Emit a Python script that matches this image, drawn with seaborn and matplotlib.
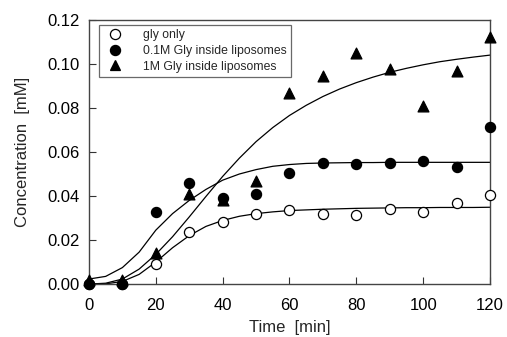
import numpy as np
import pandas as pd
import seaborn as sns
import matplotlib.pyplot as plt
from matplotlib.lines import Line2D

# measured points
time = [0, 10, 20, 30, 40, 50, 60, 70, 80, 90, 100, 110, 120]
gly_only = [0.000, 0.000, 0.009, 0.0236, 0.028, 0.032, 0.0336, 0.0318, 0.0312, 0.034, 0.0327, 0.037, 0.0405]
gly_01m = [0.000, 0.000, 0.0327, 0.046, 0.039, 0.041, 0.0505, 0.055, 0.0545, 0.055, 0.056, 0.053, 0.0714]
gly_1m = [0.002, 0.002, 0.014, 0.041, 0.038, 0.047, 0.0868, 0.0945, 0.105, 0.0977, 0.081, 0.097, 0.112]

# fitted curves
fit_time = [0, 5, 10, 15, 20, 25, 30, 35, 40, 45, 50, 55, 60, 65, 70, 75, 80,
            85, 90, 95, 100, 105, 110, 115, 120]
fit_gly_only = [0.0, 0.0001, 0.0012, 0.0044, 0.0100, 0.0165, 0.0220, 0.0262, 0.0289,
                0.0308, 0.0320, 0.0328, 0.0334, 0.0337, 0.0340, 0.0342, 0.0344,
                0.0345, 0.0346, 0.0347, 0.0347, 0.0348, 0.0348, 0.0348, 0.0349]
fit_gly_01m = [0.0023, 0.0035, 0.0075, 0.0145, 0.0245, 0.0320, 0.0380, 0.0430, 0.0472,
               0.0500, 0.0520, 0.0535, 0.0543, 0.0548, 0.0550, 0.0551, 0.0552,
               0.0552, 0.0553, 0.0553, 0.0553, 0.0553, 0.0553, 0.0553, 0.0553]
fit_gly_1m = [0.0, 0.0004, 0.0023, 0.0068, 0.0135, 0.0215, 0.0305, 0.0398, 0.0489,
              0.0572, 0.0647, 0.0711, 0.0766, 0.0812, 0.0852, 0.0886, 0.0915,
              0.0940, 0.0962, 0.0980, 0.0996, 0.1010, 0.1021, 0.1031, 0.1040]

labels = ['gly only', '0.1M Gly inside liposomes', '1M Gly inside liposomes']

sns.set_style('ticks')
plt.rcParams['font.family'] = ['Liberation Sans', 'DejaVu Sans']

fig = plt.figure(figsize=(5.07, 3.37), dpi=100)
ax = fig.add_axes([0.1755, 0.157, 0.791, 0.784])

# curves
for ys in [fit_gly_only, fit_gly_01m, fit_gly_1m]:
    sns.lineplot(x=fit_time, y=ys, ax=ax, color='black', linewidth=0.9, zorder=2)

# points
styles = [('o', 'white', 7.3), ('o', 'black', 7.3), ('^', 'black', 7.8)]
for ys, (m, fc, ms) in zip([gly_only, gly_01m, gly_1m], styles):
    sns.scatterplot(x=time, y=ys, ax=ax, marker=m, s=ms ** 2, color=fc,
                    edgecolor='black', linewidth=0.9, zorder=3, clip_on=False)

ax.set_xlim(0, 120)
ax.set_ylim(0, 0.12)
ax.set_xticks(range(0, 121, 20))
ax.set_yticks(np.arange(0, 0.121, 0.02))
ax.yaxis.set_major_formatter(plt.FormatStrFormatter('%.2f'))
ax.tick_params(direction='in', length=5, width=0.8, labelsize=12, colors='#333333',
               labelcolor='black')
ax.tick_params(axis='x', pad=10)
ax.tick_params(axis='y', pad=7)
for sp in ax.spines.values():
    sp.set_color('#444444')
    sp.set_linewidth(1.0)

ax.set_xlabel('Time  [min]', fontsize=12, labelpad=5)
ax.set_ylabel('Concentration  [mM]', fontsize=12, labelpad=12)

handles = [Line2D([], [], linestyle='none', marker=m, markersize=ms, markerfacecolor=fc,
                  markeredgecolor='black', markeredgewidth=0.9) for m, fc, ms in styles]
leg = ax.legend(handles, labels, loc='upper left', bbox_to_anchor=(0.018, 0.99),
                fontsize=8.8, frameon=True, fancybox=False, borderpad=0.35,
                labelspacing=0.3, handletextpad=1.3, borderaxespad=0.2)
leg.get_frame().set_edgecolor('#444444')
leg.get_frame().set_linewidth(0.9)

fig.savefig('out.png', dpi=100)
